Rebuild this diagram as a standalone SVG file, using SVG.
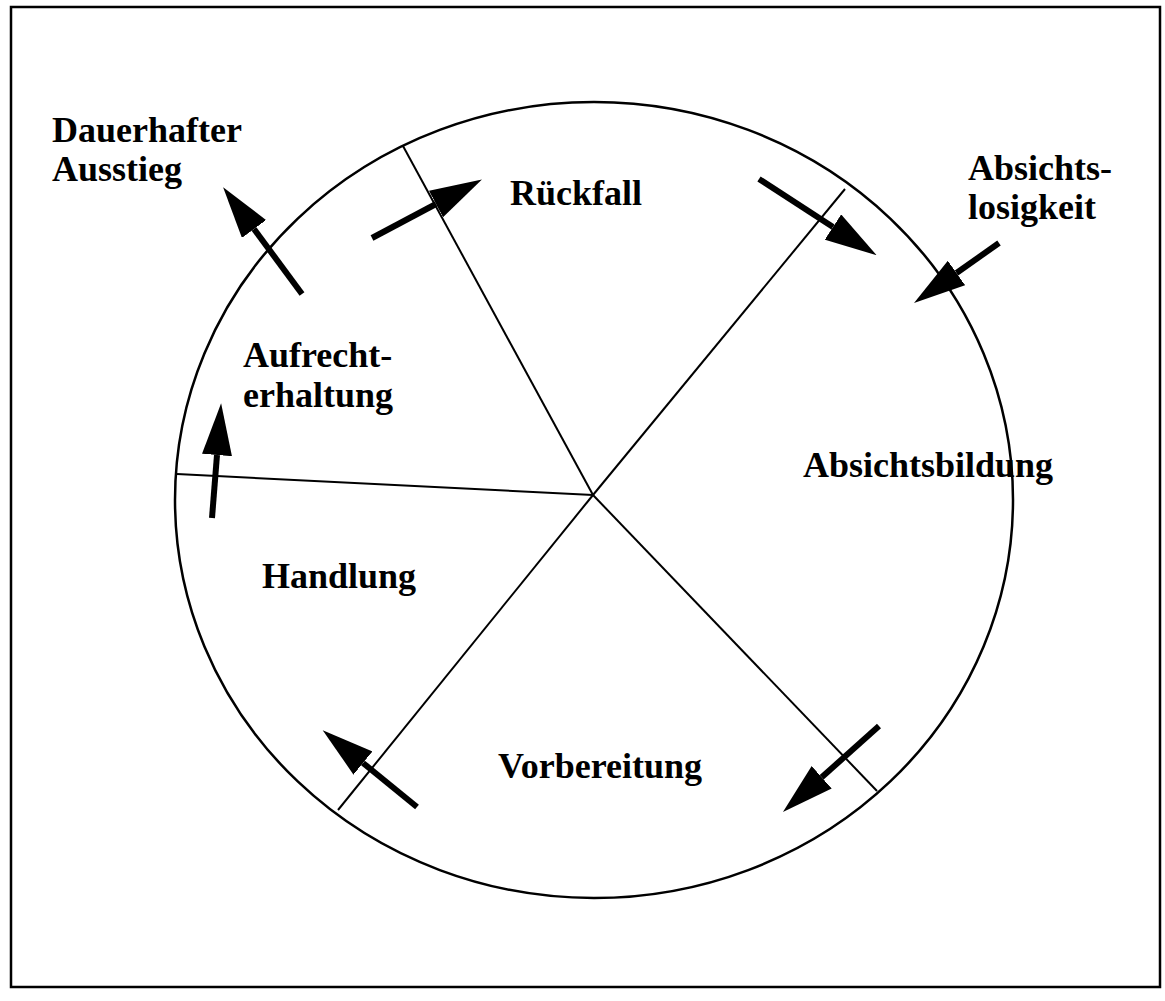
<svg xmlns="http://www.w3.org/2000/svg" width="1165" height="1001" viewBox="0 0 1165 1001">
  <style>
    .lbl { font-family: "Liberation Serif", "Times New Roman", serif; font-weight: bold; font-size: 36px; fill: #000; }
    .thin { stroke: #000; stroke-width: 2; fill: none; }
    .arrow { stroke: #000; stroke-width: 6; fill: none; marker-end: url(#head); }
  </style>
  <defs>
    <marker id="head" markerUnits="userSpaceOnUse" viewBox="0 0 52 30" markerWidth="52" markerHeight="30" refX="0" refY="15" orient="auto">
      <path d="M0,0 L52,15 L0,30 Z" fill="#000"/>
    </marker>
  </defs>
  <rect x="0" y="0" width="1165" height="1001" fill="#fff"/>
  <rect id="frame" x="11" y="7" width="1149" height="980" fill="none" stroke="#000" stroke-width="2.5"/>
  <g id="circle">
    <ellipse cx="594" cy="500" rx="419" ry="398" fill="none" stroke="#000" stroke-width="2.5"/>
  </g>
  <g id="spokes">
    <line class="thin" x1="593" y1="495" x2="403" y2="146"/>
    <line class="thin" x1="593" y1="495" x2="845" y2="189"/>
    <line class="thin" x1="593" y1="495" x2="177" y2="474"/>
    <line class="thin" x1="593" y1="495" x2="338" y2="810"/>
    <line class="thin" x1="593" y1="495" x2="877" y2="791"/>
  </g>
  <g id="node-dauerhafter-ausstieg">
    <text class="lbl" x="52" y="142">Dauerhafter</text>
    <text class="lbl" x="52" y="181">Ausstieg</text>
  </g>
  <g id="node-rueckfall">
    <text class="lbl" x="510" y="205">Rückfall</text>
  </g>
  <g id="node-absichtslosigkeit">
    <text class="lbl" x="968" y="180">Absichts-</text>
    <text class="lbl" x="968" y="219">losigkeit</text>
  </g>
  <g id="node-aufrechterhaltung">
    <text class="lbl" x="243" y="367">Aufrecht-</text>
    <text class="lbl" x="243" y="407">erhaltung</text>
  </g>
  <g id="node-absichtsbildung">
    <text class="lbl" x="803" y="477">Absichtsbildung</text>
  </g>
  <g id="node-handlung">
    <text class="lbl" x="262" y="588">Handlung</text>
  </g>
  <g id="node-vorbereitung">
    <text class="lbl" x="498" y="778">Vorbereitung</text>
  </g>
  <g id="connectors">
    <line class="arrow" x1="302" y1="294" x2="254" y2="229"/>
    <line class="arrow" x1="372" y1="238" x2="436" y2="204"/>
    <line class="arrow" x1="759" y1="179" x2="833" y2="227"/>
    <line class="arrow" x1="999" y1="243" x2="956.5" y2="273"/>
    <line class="arrow" x1="212" y1="518" x2="217" y2="455"/>
    <line class="arrow" x1="879" y1="726" x2="821.7" y2="777.3"/>
    <line class="arrow" x1="417" y1="807" x2="363" y2="763"/>
  </g>
</svg>
